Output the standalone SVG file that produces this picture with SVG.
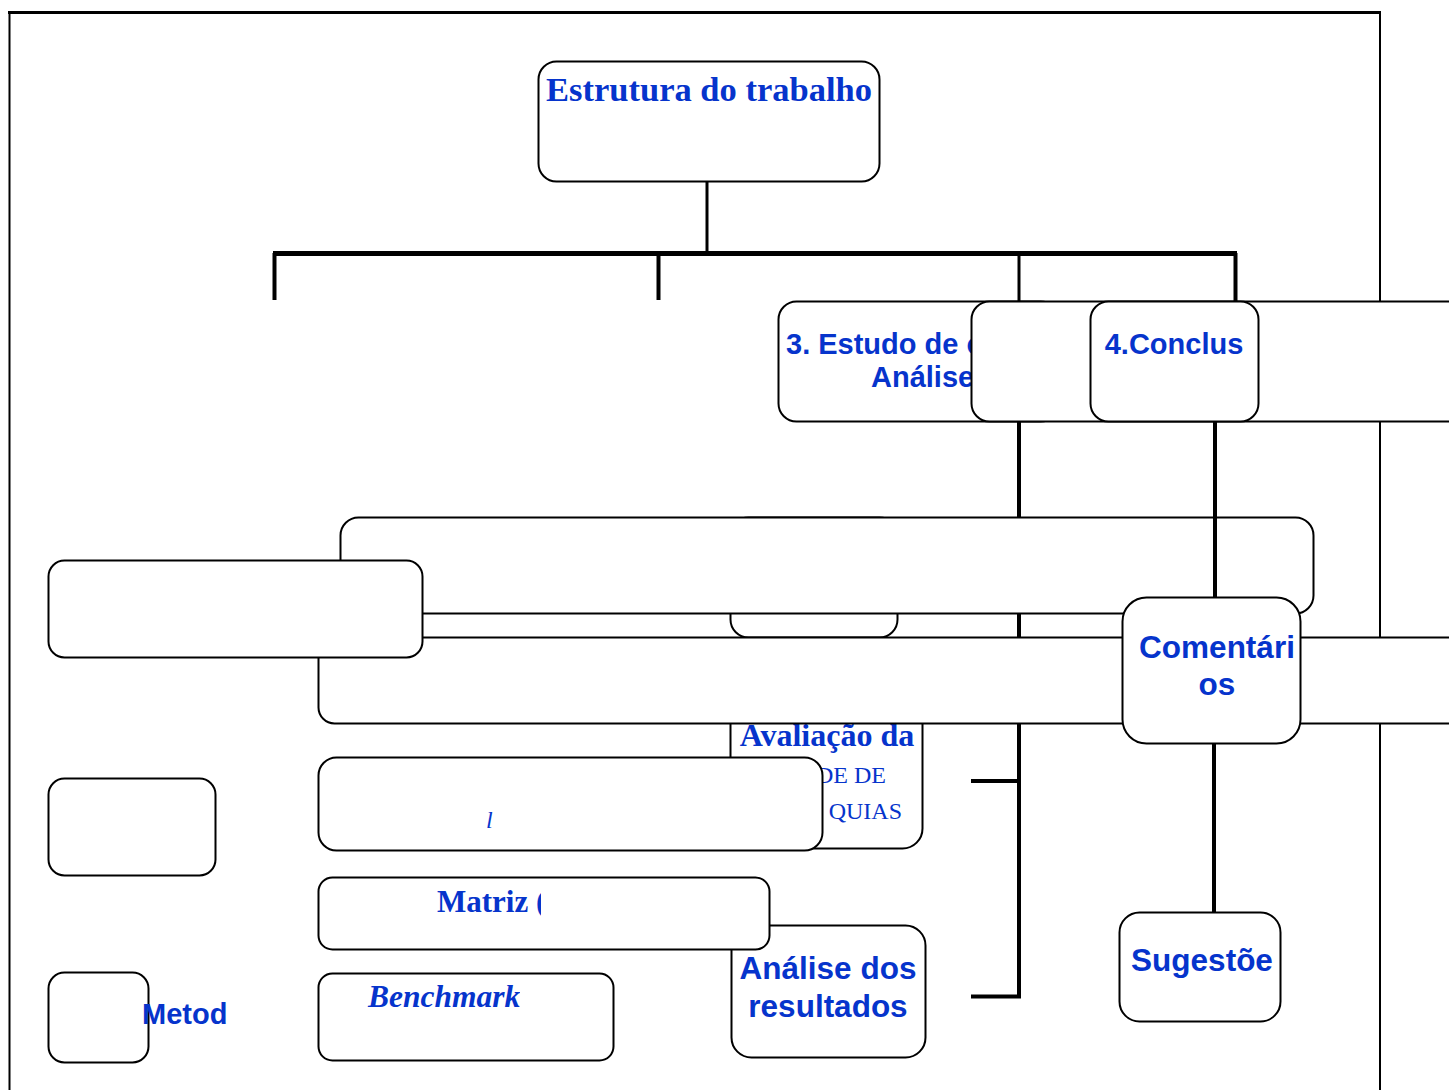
<svg xmlns="http://www.w3.org/2000/svg" width="1449" height="1090" viewBox="0 0 1449 1090">
  <style>
    .box { fill: #ffffff; stroke: #000000; stroke-width: 2; }
    .sans { font-family: "Liberation Sans", Arial, sans-serif; font-weight: bold; fill: #0634cc; }
    .serif { font-family: "Liberation Serif", "Times New Roman", serif; fill: #0634cc; }
    .bold { font-weight: bold; }
    .conn { stroke: #000000; fill: none; stroke-linecap: butt; }
  </style>
  <defs>
    <clipPath id="clip-matriz"><rect x="318" y="877" width="223" height="72"/></clipPath>
    <clipPath id="clip-bench"><rect x="318" y="973" width="202" height="87"/></clipPath>
  </defs>

  <rect x="0" y="0" width="1449" height="1090" fill="#ffffff"/>

  <!-- page frame -->
  <g id="frame" stroke="#000000" fill="none">
    <line x1="8" y1="12.5" x2="1381" y2="12.5" stroke-width="3"/>
    <line x1="9.5" y1="12" x2="9.5" y2="1090" stroke-width="2"/>
    <line x1="1380" y1="12" x2="1380" y2="1090" stroke-width="2"/>
  </g>

  <g id="node-root">
    <rect class="box" x="538.5" y="61.5" width="341" height="120" rx="18"/>
    <text class="serif bold" x="709" y="101" font-size="34.5" text-anchor="middle">Estrutura do trabalho</text>
  </g>

  <g id="node-estudo">
    <rect class="box" x="778.5" y="301.5" width="280" height="120" rx="18"/>
    <text class="sans" x="786" y="354" font-size="29">3. Estudo de c</text>
    <text class="sans" x="871" y="387" font-size="29">Análise</text>
  </g>

  <g id="node-blank-top">
    <rect class="box" x="971.5" y="301.5" width="540" height="120" rx="18"/>
  </g>

  <g id="node-conclusao">
    <rect class="box" x="1090.5" y="301.5" width="168" height="120" rx="18"/>
    <text class="sans" x="1174" y="354" font-size="29" text-anchor="middle">4.Conclus</text>
  </g>

  <g id="node-hidden-mid">
    <rect class="box" x="730.5" y="517.5" width="167" height="120" rx="18"/>
  </g>

  <g id="node-wide-1">
    <rect class="box" x="340.5" y="517.5" width="973" height="96" rx="18"/>
  </g>

  <g id="node-avaliacao">
    <rect class="box" x="730.5" y="700.5" width="192" height="148" rx="20"/>
    <text class="serif bold" x="827" y="746" font-size="32" text-anchor="middle">Avaliação da</text>
    <text class="serif" x="886" y="783" font-size="24" text-anchor="end">DE DE</text>
    <text class="serif" x="902" y="819" font-size="24" text-anchor="end">QUIAS</text>
  </g>

  <g id="node-wide-2">
    <rect class="box" x="318.5" y="637.5" width="1200" height="86" rx="16"/>
  </g>

  <g id="node-left-1">
    <rect class="box" x="48.5" y="560.5" width="374" height="97" rx="16"/>
  </g>

  <g id="node-mid-3">
    <rect class="box" x="318.5" y="757.5" width="504" height="93" rx="18"/>
    <text class="serif" x="486" y="828" font-size="24" font-style="italic">l</text>
  </g>

  <g id="node-left-2">
    <rect class="box" x="48.5" y="778.5" width="167" height="97" rx="16"/>
  </g>

  <g id="node-analise">
    <rect class="box" x="731.5" y="925.5" width="194" height="132" rx="20"/>
    <text class="sans" x="828" y="979" font-size="31.5" text-anchor="middle">Análise dos</text>
    <text class="sans" x="828" y="1017" font-size="31.5" text-anchor="middle">resultados</text>
  </g>

  <g id="node-matriz">
    <rect class="box" x="318.5" y="877.5" width="451" height="72" rx="14"/>
    <text class="serif bold" x="437" y="912" font-size="31" clip-path="url(#clip-matriz)">Matriz (</text>
  </g>

  <g id="node-benchmark">
    <rect class="box" x="318.5" y="973.5" width="295" height="87" rx="14"/>
    <text class="serif bold" x="368" y="1007" font-size="31.5" font-style="italic" clip-path="url(#clip-bench)">Benchmark</text>
  </g>

  <g id="node-metodo">
    <rect class="box" x="48.5" y="972.5" width="100" height="90" rx="16"/>
    <text class="sans" x="142" y="1024" font-size="29">Metod</text>
  </g>

  <g id="node-comentarios">
    <rect class="box" x="1122.5" y="597.5" width="178" height="146" rx="24"/>
    <text class="sans" x="1217" y="658" font-size="31.5" text-anchor="middle">Comentári</text>
    <text class="sans" x="1217" y="695" font-size="31.5" text-anchor="middle">os</text>
  </g>

  <g id="node-sugestoes">
    <rect class="box" x="1119.5" y="912.5" width="161" height="109" rx="20"/>
    <text class="sans" x="1202" y="971" font-size="31.5" text-anchor="middle">Sugestõe</text>
  </g>

  <!-- tree connectors -->
  <g id="connectors" class="conn">
    <line x1="707" y1="181" x2="707" y2="253" stroke-width="3"/>
    <line x1="273" y1="253.5" x2="1237" y2="253.5" stroke-width="5"/>
    <line x1="274.5" y1="253" x2="274.5" y2="300" stroke-width="4"/>
    <line x1="658.5" y1="253" x2="658.5" y2="300" stroke-width="4"/>
    <line x1="1019" y1="253" x2="1019" y2="301" stroke-width="3"/>
    <line x1="1235.5" y1="253" x2="1235.5" y2="301" stroke-width="4"/>
    <line x1="1019" y1="422" x2="1019" y2="517" stroke-width="4"/>
    <line x1="1019" y1="614" x2="1019" y2="637" stroke-width="4"/>
    <line x1="1019" y1="724" x2="1019" y2="998" stroke-width="4"/>
    <line x1="971" y1="781" x2="1019" y2="781" stroke-width="4"/>
    <line x1="971" y1="996.5" x2="1021" y2="996.5" stroke-width="4"/>
    <line x1="1215" y1="422" x2="1215" y2="597" stroke-width="4"/>
    <line x1="1214" y1="744" x2="1214" y2="912" stroke-width="4"/>
  </g>
</svg>
